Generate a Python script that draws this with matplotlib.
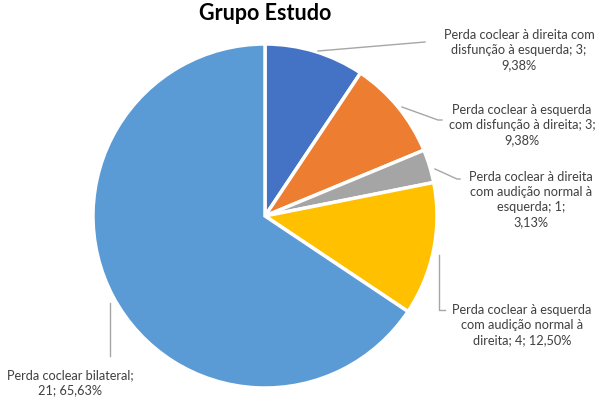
import matplotlib
matplotlib.use('Agg')
import matplotlib.pyplot as plt

plt.rcParams['font.family'] = ['Lato', 'DejaVu Sans']

# slices, clockwise from the top
labels = ['Perda coclear à direita com\ndisfunção à esquerda; 3;\n9,38%',
          'Perda coclear à esquerda\ncom disfunção à direita; 3;\n9,38%',
          'Perda coclear à direita\ncom audição normal à\nesquerda; 1;\n3,13%',
          'Perda coclear à esquerda\ncom audição normal à\ndireita; 4; 12,50%',
          'Perda coclear bilateral;\n21; 65,63%']
values = [3, 3, 1, 4, 21]
colors = ['#4472C4', '#ED7D31', '#A5A5A5', '#FFC000', '#5B9BD5']

W, H = 600, 402
fig = plt.figure(figsize=(6, 4.02), dpi=100)
ax = fig.add_axes([0, 0, 1, 1])

cx, cy, r = 265, H - 217, 172
ax.pie(values, colors=colors, startangle=90, counterclock=False,
       center=(cx, cy), radius=r, frame=True,
       wedgeprops=dict(edgecolor='white', linewidth=2.5))
ax.set_xlim(0, W)
ax.set_ylim(0, H)
ax.axis('off')

# label positions (pixel, top-left origin) and leader lines
label_pos = [(519, 50), (522, 125), (531, 200), (522, 325), (70, 383)]
leaders = [[(318, 52), (425, 43)],
           [(402, 108), (438, 121), (442, 121)],
           [(435, 170), (457, 180), (460, 180)],
           [(439, 256), (439, 311), (445, 311)],
           [(110, 304), (110, 357)]]

for lab, (x, y), pts in zip(labels, label_pos, leaders):
    ax.text(x, H - y, lab, ha='center', va='center', fontsize=9.2,
            color='#404040', linespacing=1.3)
    ax.plot([p[0] for p in pts], [H - p[1] for p in pts], color='#A6A6A6', lw=1)

ax.text(265, H - 14, 'Grupo Estudo', ha='center', va='center',
        fontsize=15.5, fontweight='bold', color='#000000')

fig.savefig('out.png', dpi=100)
